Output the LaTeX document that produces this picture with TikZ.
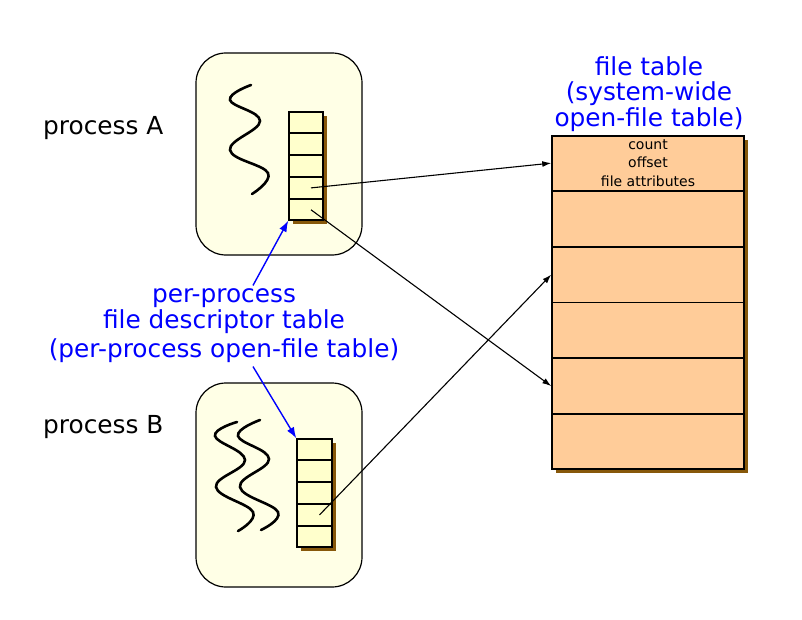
\documentclass[tikz,border=0pt]{standalone}
\usepackage{fontspec}
\setmainfont{DejaVu Sans}
\usetikzlibrary{arrows.meta,calc,shadows}

\definecolor{procfill}{RGB}{255,255,230}
\definecolor{cellfill}{RGB}{255,255,204}
\definecolor{ftfill}{RGB}{255,204,153}
\definecolor{shadebrown}{RGB}{135,88,10}

\tikzset{
  proc/.style={draw,line width=1.2pt,rounded corners=30pt,fill=procfill,
    minimum width=166pt,inner sep=0pt},
  fdtab/.style={draw,line width=1.5pt,fill=cellfill,minimum width=34pt,
    minimum height=108pt,inner sep=0pt,
    general shadow={fill=shadebrown,shadow xshift=4pt,shadow yshift=-4pt}},
  filetab/.style={draw,line width=1.5pt,fill=ftfill,minimum width=192pt,
    minimum height=333pt,inner sep=0pt,
    general shadow={fill=shadebrown,shadow xshift=4pt,shadow yshift=-4pt}},
  big/.style={font=\fontsize{24.8}{25.5}\selectfont},
  thread/.style={line width=2.6pt,line cap=round},
  ptr/.style={line width=1.1pt,-{Latex[length=9pt,width=6pt]}},
  bptr/.style={blue,line width=1.4pt,-{Latex[length=11pt,width=8pt]}}
}

\begin{document}
\begin{tikzpicture}[x=1pt,y=-1pt]
  \useasboundingbox (0,0) rectangle (802,620);

  % processes
  \node[proc,minimum height=202pt] (procA) at (279,154) {};
  \node[proc,minimum height=204pt] (procB) at (279,485) {};
  \node[big,anchor=base west,inner sep=0pt] (nameA) at (43,135) {process A};
  \node[big,anchor=base west,inner sep=0pt] (nameB) at (43,433) {process B};

  % threads
  \draw[thread] plot[smooth,tension=0.7] coordinates
    {(251,85) (230,100) (260,121) (230,150) (268,173) (252,194)};
  \draw[thread] plot[smooth,tension=0.7] coordinates
    {(237,422) (215,436) (245,460) (216,487) (253,512) (238,531)};
  \draw[thread] plot[smooth,tension=0.7] coordinates
    {(260,420) (238,436) (269,459) (240,487) (278,512) (261,530)};

  % per-process tables
  \node[fdtab] (fdA) at (306,166) {};
  \node[fdtab,minimum width=35pt] (fdB) at (314.5,493) {};
  \foreach \t in {fdA,fdB}
    \foreach \i in {1,...,4}
      \draw[line width=1.5pt] ($(\t.north west)!\i/5!(\t.south west)$)
        -- ($(\t.north east)!\i/5!(\t.south east)$);

  % file table
  \node[filetab] (ft) at (648,302.5) {};
  \foreach \i in {1,...,5}
    \draw[line width=1.6pt] ($(ft.north west)!\i/6!(ft.south west)$)
      -- ($(ft.north east)!\i/6!(ft.south east)$);
  \foreach \i [evaluate=\i as \f using (2*\i-1)/12] in {1,...,6}
    \coordinate (row\i) at ($(ft.north west)!\f!(ft.south west)$);
  \node[font=\fontsize{14}{18.5}\selectfont,align=center] (fields)
    at ($(ft.north)!1/12!(ft.south)$) {count\\offset\\file attributes};
  \node[big,blue,align=center] (fttitle) at (649,94)
    {file table\\(system-wide\\open-file table)};

  % label
  \node[big,blue,align=center] (lbl) at (224,326)
    {per-process\\file descriptor table\\[4pt](per-process open-file table)};

  % pointers
  \draw[ptr] ([xshift=5pt]$(fdA.north)!0.7!(fdA.south)$) -- (row1);
  \draw[ptr] ([xshift=5pt]$(fdA.north)!0.9!(fdA.south)$) -- (row5);
  \draw[ptr] ([xshift=5pt]$(fdB.north)!0.7!(fdB.south)$) -- (row3);
  \draw[bptr] ([xshift=29pt]lbl.north) -- (fdA.south west);
  \draw[bptr] ([xshift=29pt]lbl.south) -- (fdB.north west);
\end{tikzpicture}
\end{document}
